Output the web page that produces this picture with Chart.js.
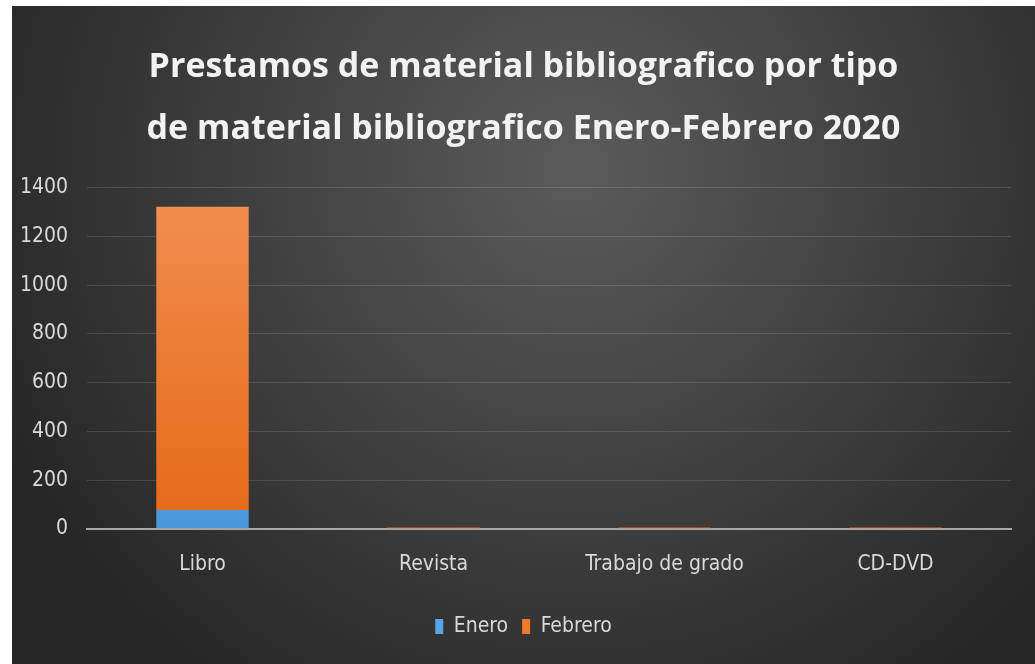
<!DOCTYPE html>
<html>
<head>
<meta charset="utf-8">
<script src="https://cdn.jsdelivr.net/npm/chart.js@4/dist/chart.umd.min.js"></script>
<style>
  html, body { margin: 0; padding: 0; background: #fff; }
  #wrap { position: absolute; left: 12px; top: 6px; width: 1023px; height: 658px; }
</style>
</head>
<body>
<div id="wrap"><canvas id="chart" width="1023" height="658"></canvas></div>
<script>
// data
const categorias = ['Libro', 'Revista', 'Trabajo de grado', 'CD-DVD'];
const enero = [77, 0, 0, 0];
const febrero = [1245, 5, 5, 5];
const yTicks = [0, 200, 400, 600, 800, 1000, 1200, 1400];
const titulo = ['Prestamos de material bibliografico por tipo', 'de material bibliografico Enero-Febrero 2020'];

const condensed = "'DejaVu Sans Condensed', 'Liberation Sans Narrow', sans-serif";

// dark radial background
const bgPlugin = {
    id: 'bg',
    beforeDraw(chart) {
        const ctx = chart.ctx;
        const w = chart.width, h = chart.height;
        const g = ctx.createRadialGradient(w * 0.55, h * 0.25, 10, w * 0.55, h * 0.25, w * 0.62);
        g.addColorStop(0, '#5a5a5a');
        g.addColorStop(1, '#262626');
        ctx.save();
        ctx.fillStyle = g;
        ctx.fillRect(0, 0, w, h);
        ctx.restore();
    }
};

function barGradient(top, bottom) {
    return function (context) {
        const area = context.chart.chartArea;
        if (!area) return bottom;
        const g = context.chart.ctx.createLinearGradient(0, area.top, 0, area.bottom);
        g.addColorStop(0, top);
        g.addColorStop(1, bottom);
        return g;
    };
}

new Chart(document.getElementById('chart'), {
    type: 'bar',
    data: {
        labels: categorias,
        datasets: [{
            label: 'Enero',
            data: enero,
            backgroundColor: barGradient('#6cb4f2', '#4b97dc'),
            legendColor: '#5aa5ea'
        }, {
            label: 'Febrero',
            data: febrero,
            backgroundColor: barGradient('#f28f52', '#e56a16'),
            legendColor: '#ee7a2a'
        }]
    },
    options: {
        responsive: false,
        animation: false,
        layout: { padding: { left: 0, right: 0, top: 0, bottom: 17 } },
        datasets: { bar: { categoryPercentage: 0.8, barPercentage: 0.5 } },
        scales: {
            x: {
                stacked: true,
                afterFit(axis) { axis.height += 10; },
                grid: { display: false },
                border: { color: '#a8a8a8', width: 2 },
                ticks: { color: '#d9d9d9', font: { family: condensed, size: 21 }, padding: 15 }
            },
            y: {
                stacked: true,
                min: 0,
                max: 1400,
                afterBuildTicks(axis) { axis.ticks = yTicks.map(v => ({ value: v })); },
                afterFit(axis) { axis.width = 75; },
                grid: { color: 'rgba(255,255,255,0.13)', lineWidth: 1, drawTicks: false },
                border: { display: false },
                ticks: {
                    color: '#d9d9d9',
                    font: { family: condensed, size: 21 },
                    padding: 19,
                    callback: v => String(v)
                }
            },
            // empty right axis, only keeps the right margin so the title stays centred on the canvas
            margen: {
                position: 'right',
                afterFit(axis) { axis.width = 24; },
                grid: { display: false },
                border: { display: false },
                ticks: { display: false }
            }
        },
        plugins: {
            title: {
                display: true,
                text: titulo,
                color: '#f2f2f2',
                font: { family: "'Open Sans', sans-serif", size: 34, weight: 'bold', lineHeight: 1.82 },
                padding: { top: 30, bottom: 28 }
            },
            legend: {
                position: 'bottom',
                labels: {
                    color: '#d9d9d9',
                    font: { family: condensed, size: 21 },
                    boxWidth: 8,
                    boxHeight: 15,
                    padding: 14,
                    generateLabels(chart) {
                        return chart.data.datasets.map((ds, i) => ({
                            text: ds.label,
                            fillStyle: ds.legendColor,
                            strokeStyle: ds.legendColor,
                            lineWidth: 0,
                            fontColor: '#d9d9d9',
                            datasetIndex: i
                        }));
                    }
                }
            },
            tooltip: { enabled: false }
        }
    },
    plugins: [bgPlugin]
});
</script>
</body>
</html>
